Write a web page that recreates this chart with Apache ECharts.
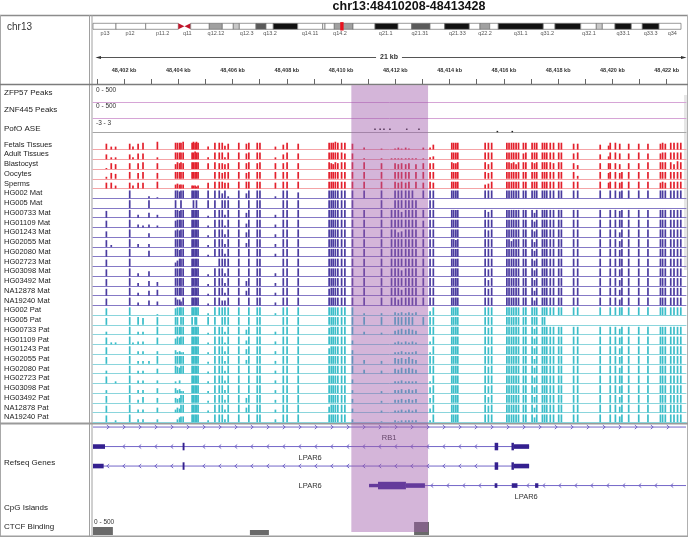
<!DOCTYPE html>
<html><head><meta charset="utf-8">
<script src="https://cdn.jsdelivr.net/npm/echarts@6/dist/echarts.min.js"></script>
<style>html,body{margin:0;padding:0;background:#fff}#c{width:688px;height:537px}</style>
</head><body><div id="c"></div>
<script>
// ---------------- DATA ----------------
const viewRange = [48400.857, 48422.712];      // kb, visible locus
const highlightRange = [48410.378, 48413.205]; // kb, ROI
const chr13Length = 114.364;                    // Mb

// ideogram bands [startMb, endMb, stain]
const ideoBands = [
 [0,4.47,'gneg'],[4.47,10.25,'gneg'],[10.25,16.59,'gneg'],[16.59,17.79,'acenP'],[17.79,19.0,'acenQ'],
 [19.0,22.62,'gneg'],[22.62,25.15,'gpos50'],[25.15,27.29,'gneg'],[27.29,28.46,'gpos25'],[28.46,31.70,'gneg'],
 [31.70,33.65,'gpos75'],[33.65,35.07,'gneg'],[35.07,39.81,'gpos100'],[39.81,44.68,'gneg'],[44.68,45.12,'gneg'],
 [45.12,46.93,'gneg'],[46.93,50.57,'gpos50'],[50.57,54.85,'gneg'],[54.85,59.32,'gpos100'],[59.32,61.99,'gneg'],
 [61.99,65.55,'gpos75'],[65.55,68.41,'gneg'],[68.41,73.19,'gpos100'],[73.19,75.27,'gneg'],[75.27,77.16,'gpos50'],
 [77.16,78.83,'gneg'],[78.83,87.58,'gpos100'],[87.58,89.86,'gneg'],[89.86,94.86,'gpos100'],[94.86,97.89,'gneg'],
 [97.89,99.06,'gpos25'],[99.06,101.53,'gneg'],[101.53,104.70,'gpos100'],[104.70,106.84,'gneg'],[106.84,110.09,'gpos100'],
 [110.09,114.364,'gneg']
];
const ideoLabelNames = ['p13','p12','p11.2','q11','q12.12','q12.3','q13.2','q14.11','q14.2','q21.1','q21.31','q21.33','q22.2','q31.1','q31.2','q32.1','q33.1','q33.3','q34'];
const ideoLabelPos = [2.33,7.20,13.56,18.34,23.92,29.9,34.43,42.21,48.04,56.93,63.59,70.86,76.25,83.19,88.36,96.47,103.14,108.47,112.67];

// CpG site positions (kb)
const sitePositions = [
 48401.35, 48401.53, 48401.69,
 48402.21, 48402.33, 48402.52, 48402.70, 48402.92, 48403.23,
 48403.90, 48403.97, 48404.05, 48404.10, 48404.18,
 48404.51, 48404.56, 48404.62, 48404.67, 48404.73,
 48405.10, 48405.35, 48405.51, 48405.62, 48405.72, 48405.84,
 48406.23, 48406.51, 48406.60, 48406.91, 48407.01,
 48407.58, 48407.87, 48408.01, 48408.42,
 48409.56, 48409.64, 48409.71, 48409.79, 48409.88,
 48410.02, 48410.14,
 48410.42, 48410.85, 48411.49, 48411.86, 48411.99, 48412.11, 48412.23, 48412.38, 48412.50, 48412.63, 48412.76, 48413.03, 48413.28, 48413.40,
 48414.08, 48414.15, 48414.23, 48414.30,
 48415.31, 48415.43, 48415.55,
 48416.11, 48416.19, 48416.28, 48416.36, 48416.45, 48416.54,
 48416.72, 48416.81,
 48417.04, 48417.13, 48417.21,
 48417.42, 48417.50, 48417.58,
 48417.71, 48417.83,
 48418.02, 48418.12,
 48418.57, 48418.72,
 48419.55, 48419.86, 48419.92, 48420.11, 48420.27, 48420.35, 48420.60, 48420.97, 48421.31,
 48421.77, 48421.85, 48421.95,
 48422.15, 48422.27, 48422.40, 48422.52
];

const trackNames = ['Fetals Tissues','Adult Tissues','Blastocyst','Oocytes','Sperms',
 'HG002 Mat','HG005 Mat','HG00733 Mat','HG01109 Mat','HG01243 Mat','HG02055 Mat','HG02080 Mat','HG02723 Mat','HG03098 Mat','HG03492 Mat','NA12878 Mat','NA19240 Mat',
 'HG002 Pat','HG005 Pat','HG00733 Pat','HG01109 Pat','HG01243 Pat','HG02055 Pat','HG02080 Pat','HG02723 Pat','HG03098 Pat','HG03492 Pat','NA12878 Pat','NA19240 Pat'];
const trackGroups = ['tissue','tissue','tissue','tissue','tissue',
 'mat','mat','mat','mat','mat','mat','mat','mat','mat','mat','mat','mat',
 'pat','pat','pat','pat','pat','pat','pat','pat','pat','pat','pat','pat'];
// methylation level per site (0-9), one string per track
const trackLevels = [
 "633 636708 77778 78787 377746 76777 3576 77787 77 62101212100225 7777 777 777777 77 777 777 77 77 66 547760666 676 7777",
 "522 526602 77777 77877 277727 76777 2576 77777 76 61111111111123 7777 777 777777 67 777 777 77 77 67 537760676 677 7777",
 "165 606706 57676 77777 676656 76767 6676 76576 77 77606565605666 7667 757 776757 77 767 777 76 77 64 666650667 777 7587",
 "265 706706 77777 77777 077677 76777 7777 77777 77 77707777707777 7777 767 777777 77 777 777 77 77 73 767767777 777 7777",
 "663 636607 45444 33323 677766 77777 6777 77777 77 77707676707676 7777 457 777777 77 777 777 77 77 77 767767777 676 7777",
 "000 800021 88788 88888 888582 85888 2886 88888 88 88808888880888 8888 888 888888 88 888 888 88 88 88 808878888 888 8888",
 "000 800080 80080 08080 880888 80888 0888 88888 88 80808888888088 0000 000 000000 00 000 000 00 00 00 000000000 000 0000",
 "700 803053 88788 88888 288838 85888 3888 88888 88 88888868888888 8888 868 888888 88 858 888 88 88 88 808878888 888 8888",
 "700 803232 78888 88888 288828 84888 3888 88888 88 88888888888788 8888 888 888888 88 868 888 88 88 88 808888888 888 8888",
 "600 800040 78788 88888 288838 85888 3888 88888 88 88888568888888 8888 878 888888 88 868 888 88 88 88 808858888 888 8888",
 "720 803030 88888 88888 288838 84888 3888 88888 88 88888888888888 8878 888 886888 88 858 888 88 88 88 808868888 888 8888",
 "700 800060 88788 88888 288838 80888 3888 88888 88 88888888888888 8888 888 888888 88 868 888 88 88 88 808878888 888 8888",
 "700 800000 46888 88888 008888 80888 0888 88888 88 88888888888888 8888 888 888888 88 868 888 88 88 88 808888888 888 8888",
 "700 803050 88888 88888 288838 80888 3888 88888 88 88888868888888 8888 878 888888 88 868 888 88 88 88 808878888 888 8888",
 "700 803054 88888 88888 288838 85888 3888 88888 88 88888888888888 8888 868 888888 88 868 888 88 88 88 808868888 888 8888",
 "700 803056 88888 88888 288838 85888 3888 78888 88 88888868888888 8888 878 888888 88 858 888 88 88 88 808868888 888 8888",
 "700 803054 86648 88888 288558 80888 3888 88888 88 88888688888888 8888 888 888888 88 858 888 88 88 88 808868888 888 8888",
 "700 800001 78888 88888 288888 80888 2888 88888 88 82203232323048 8888 888 888888 88 888 888 88 88 88 808888888 888 8888",
 "700 808708 88088 80880 880888 80888 0888 88888 88 88808888880888 8888 888 888888 88 888 880 00 00 00 000000000 000 0000",
 "300 803308 88888 88888 288838 85888 3888 78888 88 83204565654088 8888 878 888888 88 868 888 88 88 88 808868888 888 8888",
 "722 823307 68788 88888 288828 84888 3888 88888 88 40002323232038 8888 888 888888 88 868 888 88 88 88 808878888 888 8888",
 "700 803303 42322 88888 288838 85888 3888 68888 88 40002232223028 8888 878 888888 88 868 888 88 88 88 808868888 888 8888",
 "700 803338 88888 88888 288838 84888 3888 88888 88 84306565754088 8888 888 888888 88 858 888 88 88 88 808878888 888 8888",
 "300 803305 87688 88888 288838 80888 3888 88888 88 84305465654088 8888 878 888888 88 868 888 88 88 88 808868888 888 8888",
 "702 803303 20300 88888 288838 80888 3888 88888 88 40002232222028 8888 888 888888 88 868 888 88 88 88 808888888 888 8888",
 "300 803305 53422 88888 288838 80888 3888 88888 88 30203343434068 8888 878 888888 88 868 888 88 88 88 808878888 888 8888",
 "700 803605 54588 88888 288838 85888 3888 88888 88 40203343434058 8888 868 888888 88 868 888 88 88 88 808868888 888 8888",
 "700 803305 35488 88888 288838 85888 3888 68888 88 40202232323048 8888 878 888888 88 858 888 88 88 88 808868888 888 8888",
 "702 803303 03566 88888 288838 80888 3888 88888 88 30102122222028 8888 888 888888 88 858 888 88 88 88 808868888 888 8888"
];

// PofO ASE marks
const pofoPositions = [48411.25, 48411.44, 48411.58, 48411.80, 48412.42, 48412.87, 48415.76, 48416.31];
const pofoValues = [0.6, 0.6, 0.6, 0.6, 0.6, 0.6, 0.05, 0.05];

// Refseq genes
const geneNames = ['RB1','LPAR6','LPAR6','LPAR6'];
const geneStrand = ['+','-','-','-'];
const geneStart = [48303.747, 48389.50, 48389.50, 48411.03];
const geneEnd = [48481.890, 48416.93, 48416.93, 48432.00];
// exons: [row, start, end, kind]
const geneExons = [
 [1,48399.90,48401.30,'utr'],[1,48404.16,48404.23,'cds'],[1,48415.66,48415.79,'cds'],[1,48416.28,48416.37,'cds'],[1,48416.37,48416.93,'utr'],
 [2,48399.90,48401.25,'utr'],[2,48404.16,48404.23,'cds'],[2,48415.66,48415.79,'cds'],[2,48416.28,48416.37,'cds'],[2,48416.37,48416.93,'utr'],
 [3,48411.03,48411.36,'nc'],[3,48411.36,48412.39,'cds'],[3,48412.39,48413.09,'utr'],[3,48415.66,48415.76,'utr'],[3,48416.29,48416.50,'utr'],[3,48417.15,48417.27,'utr']
];
const geneLabelPos = [48411.77, 48408.86, 48408.86, 48416.82];

// CTCF binding peaks [start, end, score]
const ctcfPeaks = [[48400.857,48401.59,235],[48406.64,48407.34,147],[48412.69,48413.24,382]];

// ---------------- LAYOUT / STYLE ----------------
const FONT = '"Liberation Sans", Arial, sans-serif';
const DATA_LEFT = 93, DATA_RIGHT = 2;
const TRACK_TOP = 139.8, TRACK_H = 9.74;
const COLORS = {
  tissue:{bar:'#e3202c', base:'#f5a3a6'},
  mat:{bar:'#4a3c9f', base:'#8579c6'},
  pat:{bar:'#3bbdc9', base:'#8ad5dc'}
};
const STAIN = {gneg:'#ffffff', gpos25:'#c8c8c8', gpos50:'#a0a0a0', gpos75:'#5a5a5a', gpos100:'#111111', acenP:'#c0162b', acenQ:'#c0162b'};
const GENE_LINE = '#7466c8', GENE_BLOCK = '#34208f';
const BAR_W = 1.7;

function parseLevels(s){ return s.replace(/\s+/g,'').split('').map(Number); }

const grids=[], xAxes=[], yAxes=[], series=[];
function addGrid(g, xa, ya){
  grids.push(g); const i = grids.length-1;
  xAxes.push(Object.assign({gridIndex:i}, xa));
  yAxes.push(Object.assign({gridIndex:i}, ya));
  return i;
}
function dataX(lineColor){
  return {type:'value', min:viewRange[0], max:viewRange[1], position:'bottom',
    axisLine:{show:!!lineColor, onZero:false, lineStyle:{color:lineColor||'#000', width:1}},
    axisTick:{show:false}, axisLabel:{show:false}, splitLine:{show:false}};
}
const hiddenY = (min,max,inverse)=>({type:'value', min:min, max:max, inverse:!!inverse, show:false});
const dataGrid = (top,height)=>({left:DATA_LEFT, right:DATA_RIGHT, top:top, height:height});

// ideogram
const gIdeo = addGrid({left:93, right:7, top:23.3, height:6}, {type:'value', min:0, max:chr13Length, show:false}, hiddenY(0,1));
series.push({type:'custom', xAxisIndex:gIdeo, yAxisIndex:gIdeo, silent:true,
  data: ideoBands.map(b=>[b[0], b[1]]), encode:{x:[0,1]},
  renderItem:(params, api)=>{
    const b = ideoBands[params.dataIndex];
    const p0 = api.coord([b[0],0]), p1 = api.coord([b[1],1]);
    const x0=p0[0], x1=p1[0], yb=p0[1], yt=p1[1], ym=(yt+yb)/2;
    if (b[2]==='acenP') return {type:'polygon', shape:{points:[[x0,yt],[x1,ym],[x0,yb]]}, style:{fill:STAIN.acenP}};
    if (b[2]==='acenQ') return {type:'polygon', shape:{points:[[x1,yt],[x0,ym],[x1,yb]]}, style:{fill:STAIN.acenQ}};
    return {type:'rect', shape:{x:x0, y:yt, width:x1-x0, height:yb-yt}, style:{fill:STAIN[b[2]], stroke:'#707070', lineWidth:0.7}};
  }});
series.push({type:'custom', xAxisIndex:gIdeo, yAxisIndex:gIdeo, silent:true,
  data: ideoLabelPos.map(p=>[p,0]),
  renderItem:(params, api)=>{
    const p = api.coord([api.value(0),0]);
    return {type:'text', x:p[0], y:p[1]+4, style:{text:ideoLabelNames[params.dataIndex], fontSize:5.5, fontFamily:FONT, fill:'#555', align:'center', verticalAlign:'middle'}};
  }});
series.push({type:'custom', xAxisIndex:gIdeo, yAxisIndex:gIdeo, silent:true,
  data: [[(viewRange[0]+viewRange[1])/2/1000, 0]],
  renderItem:(params, api)=>{
    const p0 = api.coord([api.value(0),0]), p1 = api.coord([api.value(0),1]);
    return {type:'rect', shape:{x:p0[0]-1.7, y:p1[1]-1.2, width:3.4, height:p0[1]-p1[1]+2.4}, style:{fill:'#e8121e'}};
  }});

// ruler
const gRuler = addGrid({left:DATA_LEFT+(Math.ceil(viewRange[0])-viewRange[0])*593/(viewRange[1]-viewRange[0]), right:DATA_RIGHT, top:60, height:24},
  {type:'value', min:Math.ceil(viewRange[0]), max:viewRange[1], interval:1, position:'bottom',
   axisLine:{show:false}, axisTick:{show:true, inside:true, length:5, lineStyle:{color:'#666', width:1}},
   axisLabel:{inside:true, margin:11, fontSize:5.5, fontWeight:'bold', color:'#333', fontFamily:FONT, showMaxLabel:false,
     formatter:v=>{const k=Math.round(v); if (Math.abs(v-k)>1e-6 || k%2) return ''; return String(k).replace(/\B(?=(\d{3})+(?!\d))/g, ',')+' kb';}},
   splitLine:{show:false}}, hiddenY(0,1));

// peak tracks
addGrid(dataGrid(86,16), dataX('#d6a5d6'), hiddenY(0,500));
addGrid(dataGrid(103,15), dataX('#d6a5d6'), hiddenY(0,500));
const gPofo = addGrid(dataGrid(119,12.8), dataX('#a6a6a6'), hiddenY(0,3));
series.push({type:'custom', xAxisIndex:gPofo, yAxisIndex:gPofo, silent:true,
  data: pofoPositions.map((p,i)=>[p, pofoValues[i]]),
  renderItem:(params, api)=>{
    const p = api.coord([api.value(0), api.value(1)]);
    return {type:'rect', shape:{x:p[0]-0.8, y:p[1]-0.7, width:1.6, height:1.4}, style:{fill:'#222'}};
  }});

// methylation tracks
const firstTrackGrid = grids.length;
trackNames.forEach((name, i)=>{
  const c = COLORS[trackGroups[i]];
  const gi = addGrid(dataGrid(TRACK_TOP + i*TRACK_H, TRACK_H), dataX(c.base), hiddenY(0,10));
  const lv = parseLevels(trackLevels[i]);
  series.push({type:'custom', xAxisIndex:gi, yAxisIndex:gi, silent:true,
    data: sitePositions.map((p,k)=>[p, lv[k]||0]), encode:{x:0, y:1},
    renderItem:(params, api)=>{
      const h = api.value(1);
      if (!(h>0)) return null;
      const b = api.coord([api.value(0),0]), t = api.coord([api.value(0),h]);
      return {type:'rect', shape:{x:b[0]-BAR_W/2, y:t[1], width:BAR_W, height:b[1]-t[1]}, style:{fill:c.bar}};
    }});
});

// genes
const gGene = addGrid(dataGrid(417.3,78), Object.assign(dataX(null),{show:false}), hiddenY(-0.5,3.5,true));
function clampX(x, cs){ return Math.max(cs.x, Math.min(cs.x+cs.width, x)); }
series.push({type:'custom', xAxisIndex:gGene, yAxisIndex:gGene, silent:true,
  data: geneNames.map((n,i)=>[geneStart[i], geneEnd[i], i]), encode:{x:[0,1], y:2},
  renderItem:(params, api)=>{
    const i = params.dataIndex, cs = params.coordSys;
    const a = api.coord([geneStart[i], i]), b = api.coord([geneEnd[i], i]);
    const x0 = clampX(a[0], cs), x1 = clampX(b[0], cs), y = a[1];
    const kids = [{type:'line', shape:{x1:x0, y1:y, x2:x1, y2:y}, style:{stroke:GENE_LINE, lineWidth:1}}];
    const exPix = geneExons.filter(e=>e[0]===i).map(e=>[api.coord([e[1],i])[0], api.coord([e[2],i])[0]]);
    const dir = geneStrand[i]==='+' ? 1 : -1;
    for (let x = x0+15; x < x1-3; x += 16) {
      if (exPix.some(p=>x>p[0]-4 && x<p[1]+4)) continue;
      kids.push({type:'polyline', shape:{points:[[x-1.2*dir,y-2],[x+1.2*dir,y],[x-1.2*dir,y+2]]}, style:{stroke:GENE_LINE, lineWidth:1, fill:null}});
    }
    return {type:'group', children:kids};
  }});
series.push({type:'custom', xAxisIndex:gGene, yAxisIndex:gGene, silent:true,
  data: geneExons.map(e=>[e[1], e[2], e[0]]), encode:{x:[0,1], y:2},
  renderItem:(params, api)=>{
    const e = geneExons[params.dataIndex], cs = params.coordSys;
    const a = api.coord([e[1], e[0]]), b = api.coord([e[2], e[0]]);
    const x0 = clampX(a[0], cs), x1 = clampX(b[0], cs);
    const h = e[3]==='cds' ? 7.5 : (e[3]==='utr' ? 4.6 : 3.4);
    return {type:'rect', shape:{x:x0, y:a[1]-h/2, width:Math.max(1.5,x1-x0), height:h}, style:{fill:GENE_BLOCK}};
  }});
const geneLabelRows = [0.56, 1.58, 3.02, 3.56];
series.push({type:'custom', xAxisIndex:gGene, yAxisIndex:gGene, silent:true,
  data: geneLabelPos.map((p,i)=>[p, geneLabelRows[i]]), encode:{x:0, y:1},
  renderItem:(params, api)=>{
    const p = api.coord([api.value(0), api.value(1)]);
    return {type:'text', x:p[0], y:p[1], style:{text:geneNames[params.dataIndex], fontSize:7.5, fontFamily:FONT, fill:'#333', align:'center', verticalAlign:'middle'}};
  }});

// CTCF
const gCtcf = addGrid(dataGrid(518,17), Object.assign(dataX(null),{show:false}), hiddenY(0,500));
series.push({type:'custom', xAxisIndex:gCtcf, yAxisIndex:gCtcf, silent:true,
  data: ctcfPeaks, encode:{x:[0,1], y:2},
  renderItem:(params, api)=>{
    const a = api.coord([api.value(0), 0]), b = api.coord([api.value(1), api.value(2)]);
    return {type:'rect', shape:{x:a[0], y:b[1], width:b[0]-a[0], height:a[1]-b[1]}, style:{fill:'#6a6a6a'}};
  }});

// ---------------- GRAPHIC (texts, frame) ----------------
const G = [];
const txt = (t,x,y,size,opt)=>G.push(Object.assign({type:'text', x:x, y:y, silent:true,
  style:Object.assign({text:t, fontSize:size, fontFamily:FONT, fill:'#222', align:'left', verticalAlign:'middle'}, opt||{})}));
const ln = (x1,y1,x2,y2,color,w)=>G.push({type:'line', silent:true, shape:{x1,y1,x2,y2}, style:{stroke:color, lineWidth:w||1}});

txt('chr13:48410208-48413428', 409, 6.5, 12.5, {fontWeight:'bold', align:'center', fill:'#111'});
// frame
ln(0,15.5,688,15.5,'#8c8c8c',1.5);
ln(0.5,15,0.5,537,'#a8a8a8',1);
ln(687.5,15,687.5,537,'#b0b0b0',1);
ln(89.5,15,89.5,537,'#a0a0a0',1);
ln(92,15,92,537,'#a0a0a0',1);
ln(0,84.6,688,84.6,'#7c7c7c',1.5);
ln(0,423.6,688,423.6,'#9a9a9a',2);
ln(0,536.3,688,536.3,'#a0a0a0',1.4);
// scrollbar
G.push({type:'rect', silent:true, shape:{x:684, y:95, width:3, height:175}, style:{fill:'#e6e6e6'}});
// left labels
txt('chr13', 7, 27, 10, {fill:'#333'});
txt('ZFP57 Peaks', 4, 93, 8);
txt('ZNF445 Peaks', 4, 110, 8);
txt('PofO ASE', 4, 129, 8);
trackNames.forEach((n,i)=>txt(n, 4, TRACK_TOP + i*TRACK_H + TRACK_H/2, 7.5));
txt('Refseq Genes', 4, 463, 8);
txt('CpG Islands', 4, 508, 8);
txt('CTCF Binding', 4, 527, 8);
// scale labels
txt('0 - 500', 96, 90.5, 6.5, {fill:'#333'});
txt('0 - 500', 96, 106.5, 6.5, {fill:'#333'});
txt('-3 - 3', 96, 123.5, 6.5, {fill:'#333'});
txt('0 - 500', 94, 521.8, 6.5, {fill:'#333'});
// ruler arrow
ln(97,57.5,685,57.5,'#555',1);
G.push({type:'polygon', silent:true, shape:{points:[[95.5,57.5],[101,55.9],[101,59.1]]}, style:{fill:'#333'}});
G.push({type:'polygon', silent:true, shape:{points:[[686.5,57.5],[681,55.9],[681,59.1]]}, style:{fill:'#333'}});
txt(Math.floor(viewRange[1]-viewRange[0]) + ' kb', 389, 57.5, 7, {fontWeight:'bold', align:'center', fill:'#333', backgroundColor:'#fff', padding:[0,4]});

const chart = echarts.init(document.getElementById('c'), null, {renderer:'canvas'});
chart.setOption({
  animation:false, backgroundColor:'#fff', textStyle:{fontFamily:FONT},
  grid:grids, xAxis:xAxes, yAxis:yAxes, series:series, graphic:{elements:G}
});

// ROI highlight through the library's own scale
const hx0 = chart.convertToPixel({xAxisIndex:firstTrackGrid}, highlightRange[0]);
const hx1 = chart.convertToPixel({xAxisIndex:firstTrackGrid}, highlightRange[1]);
chart.setOption({graphic:{elements:[{id:'roi', type:'rect', silent:true, z:100,
  shape:{x:hx0, y:85.3, width:hx1-hx0, height:532-85.3}, style:{fill:'rgba(160,90,170,0.45)'}}]}});
</script></body></html>
